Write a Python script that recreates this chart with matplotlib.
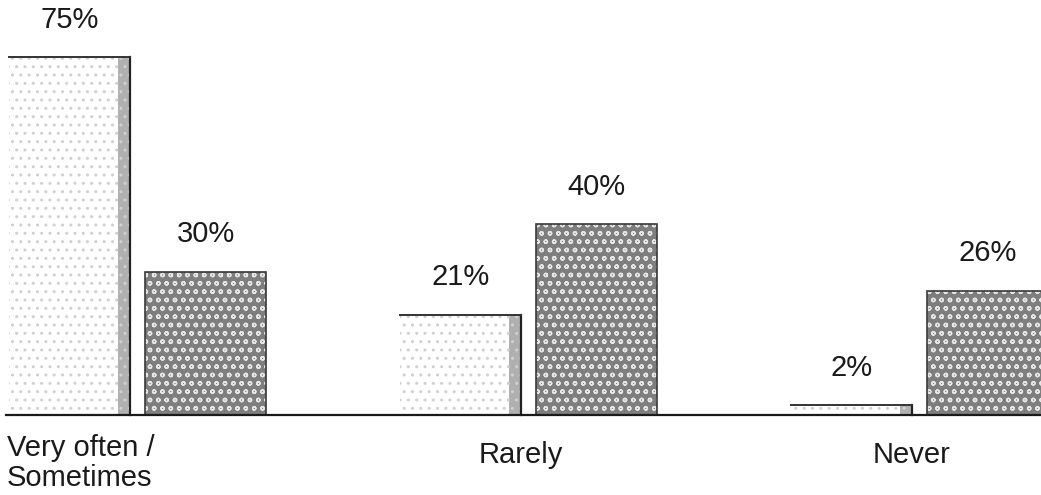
import matplotlib
matplotlib.use('Agg')
from matplotlib import pyplot as plt
import numpy as np

plt.rcParams['font.family'] = ['Liberation Sans', 'DejaVu Sans']

# Survey answers, two groups per category
categories = ['Very often /\nSometimes', 'Rarely', 'Never']
group_a = [75, 21, 2]
group_b = [30, 40, 26]

x = np.arange(len(categories))
width = 0.31
offset = 0.174

fig = plt.figure(figsize=(10.41, 4.95), dpi=100)
ax = fig.add_axes([0, 0, 1, 1])

# light bars: white with a grey shadow along the right side
ax.bar(x - offset, group_a, width, color='white', edgecolor='none')
ax.bar(x - offset + width * 0.45, group_a, width * 0.1, color='#b0b0b0', edgecolor='none')
ax.bar(x - offset, group_a, width, facecolor='none', edgecolor='#d0d0d0',
       hatch='..', linewidth=0)
for xi, v in zip(x - offset, group_a):
    ax.plot([xi + width / 2, xi + width / 2], [0, v], color='#222222', lw=1.6)
    ax.plot([xi - width / 2, xi + width / 2], [v, v], color='#333333', lw=1.4)

# dark bars: mottled grey
ax.bar(x + offset, group_b, width, color='#7e7e7e', edgecolor='none')
ax.bar(x + offset, group_b, width, facecolor='none', edgecolor='#e6e6e6',
       hatch='oo', linewidth=0)
ax.bar(x + offset, group_b, width, facecolor='none', edgecolor='#3a3a3a', linewidth=1.2)

# value labels
for xs, vals in ((x - offset, group_a), (x + offset, group_b)):
    for xi, v in zip(xs, vals):
        ax.annotate(f'{v}%', (xi, v), xytext=(0, 17), textcoords='offset points',
                    ha='center', va='bottom', fontsize=21, color='#1a1a1a')

# baseline
ax.axhline(0, xmin=0.006, xmax=1, color='#1a1a1a', lw=1.6)

# category labels under the axis
ax.annotate(categories[0], (-0.335, 0), xytext=(0, -14), textcoords='offset points',
            ha='left', va='top', fontsize=21, color='#1a1a1a', linespacing=1.05)
for xi, name in zip(x[1:], categories[1:]):
    ax.annotate(name, (xi - 0.02, 0), xytext=(0, -19), textcoords='offset points',
                ha='center', va='top', fontsize=21, color='#1a1a1a')

ax.set_xlim(-0.352, 2.311)
ax.set_ylim(-16.77, 87.0)
ax.axis('off')

fig.savefig('out.png', dpi=100)
